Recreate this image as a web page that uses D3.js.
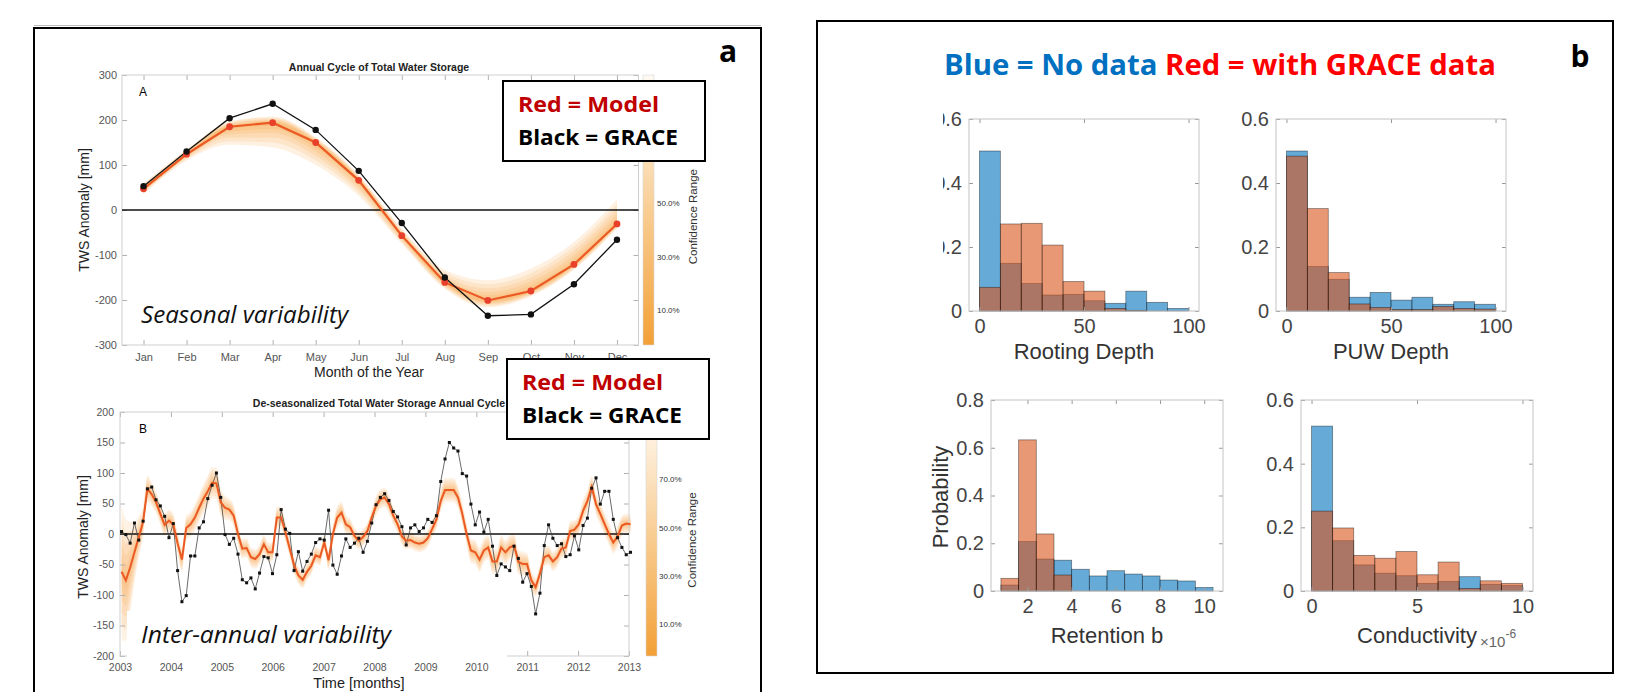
<!DOCTYPE html>
<html>
<head>
<meta charset="utf-8">
<script src="https://cdn.jsdelivr.net/npm/d3@7"></script>
<style>
body { margin: 0; background: #fff; }
svg { display: block; }
</style>
</head>
<body>
<svg id="fig" width="1626" height="692"></svg>
<script>
// ---- panel a, top: annual cycle ----
var months = ['Jan', 'Feb', 'Mar', 'Apr', 'May', 'Jun', 'Jul', 'Aug', 'Sep', 'Oct', 'Nov', 'Dec'];
var graceA = [53, 130, 204, 236, 178, 87, -29, -150, -235, -232, -165, -66];
var modelA = [47, 124, 185, 194, 150, 66, -57, -161, -201, -180, -121, -31];
var bandLoA = [12, 14, 40, 55, 50, 35, 18, 14, 15, 12, 12, 10];   // spread below model
var bandHiA = [12, 10, 12, 14, 12, 12, 16, 28, 45, 50, 50, 55];   // spread above model
var yTicksA = [-300, -200, -100, 0, 100, 200, 300];
var confTicksA = [10, 30, 50];

// ---- panel a, bottom: de-seasonalized ----
var yearTicks = [2003, 2004, 2005, 2006, 2007, 2008, 2009, 2010, 2011, 2012, 2013];
var yTicksB = [-200, -150, -100, -50, 0, 50, 100, 150, 200];
var confTicksB = [10, 30, 50, 70];
var startB = 2003.03, stepB = 1 / 11.8; // monthly samples
var graceB = [4, -1, -15, 18, -10, 21, 74, 77, 56, 46,
    29, -6, 17, -60, -111, -101, -36, -36, 10, 20,
    58, 80, 100, 60, -1, -17, -7, -33, -75, -80,
    -72, -90, -64, -37, -39, -65, -34, 40, 8, 1,
    -60, -29, -61, -45, -33, -14, -8, -10, 39, -51,
    -66, -36, -8, -22, -15, -7, -30, -12, 18, 48,
    60, 66, 55, 37, 28, 12, -18, 10, 15, 4,
    10, 24, 19, 30, 86, 123, 150, 141, 136, 99,
    95, 49, 15, 36, 3, 24, -20, -68, -49, -54,
    -60, -20, -40, -79, -65, -86, -131, -97, -19, 15,
    -7, -19, -16, -37, -34, -3, -26, 14, 26, 75,
    92, 49, 70, 70, 24, -6, -22, -34, -30];
var modelB = [-62, -76, -55, -30, -5, 20, 74, 65, 52, 33,
    15, 22, 15, -15, -42, 10, 16, 27, 43, 58,
    70, 84, 83, 52, 43, 40, 30, 0, -24, -23,
    -38, -41, -33, -17, -30, -30, 27, 27, 3, -24,
    -51, -68, -75, -62, -52, -35, -38, -14, -43, 0,
    27, 35, 16, 11, -3, -11, -5, 5, 27, 46,
    57, 60, 49, 30, 16, -4, -11, -10, -14, -16,
    -14, -7, 8, 24, 54, 72, 72, 72, 60, 33,
    0, -27, -30, -42, -27, -22, -45, -45, -22, -30,
    -22, -19, -46, -49, -49, -76, -87, -65, -38, -35,
    -45, -38, -24, -22, 5, 7, 16, 38, 54, 77,
    49, 33, 16, 0, -14, -4, 14, 17, 16];
var spreadB = [110, 100, 75, 50, 35, 25, 22, 20, 18, 18,
    18, 18, 18, 18, 20, 20, 20, 22, 22, 24,
    26, 26, 26, 22, 20, 18, 18, 18, 16, 16,
    16, 16, 16, 16, 16, 16, 18, 18, 16, 14,
    14, 14, 14, 14, 14, 14, 14, 14, 16, 16,
    18, 18, 16, 14, 14, 14, 14, 14, 14, 16,
    16, 16, 16, 14, 14, 14, 14, 14, 14, 14,
    14, 14, 14, 16, 18, 20, 20, 20, 18, 18,
    18, 20, 20, 20, 20, 20, 20, 20, 20, 20,
    20, 20, 20, 20, 18, 16, 16, 16, 16, 16,
    16, 16, 16, 16, 16, 16, 16, 18, 18, 18,
    18, 18, 18, 18, 18, 18, 16, 16, 16];

// ---- panel b: histograms ----
var rootEdges = [0, 10, 20, 30, 40, 50, 60, 70, 80, 90, 100];
var rootBlue = [0.50, 0.149, 0.086, 0.050, 0.052, 0.032, 0.024, 0.062, 0.027, 0.008];
var rootRed = [0.074, 0.272, 0.274, 0.206, 0.092, 0.062, 0.008, 0.002, 0, 0];
var puwEdges = [0, 10, 20, 30, 40, 50, 60, 70, 80, 90, 100];
var puwBlue = [0.50, 0.139, 0.099, 0.043, 0.058, 0.034, 0.043, 0.021, 0.029, 0.021];
var puwRed = [0.484, 0.32, 0.12, 0.022, 0.011, 0.005, 0.005, 0.014, 0.008, 0.006];
var retEdges = [0.8, 1.6, 2.4, 3.2, 4.0, 4.8, 5.6, 6.4, 7.2, 8.0, 8.8, 9.6, 10.4];
var retBlue = [0.025, 0.207, 0.134, 0.129, 0.091, 0.063, 0.085, 0.071, 0.063, 0.046, 0.042, 0.015];
var retRed = [0.053, 0.633, 0.239, 0.067, 0, 0, 0, 0, 0, 0, 0, 0];
var condEdges = [0, 1, 2, 3, 4, 5, 6, 7, 8, 9, 10];
var condBlue = [0.518, 0.158, 0.082, 0.056, 0.048, 0.024, 0.030, 0.045, 0.021, 0.017];
var condRed = [0.251, 0.198, 0.112, 0.103, 0.124, 0.051, 0.091, 0.008, 0.032, 0.024];

var HELV = '"Liberation Sans", Arial, sans-serif';
var CALI = '"Open Sans", "Noto Sans", sans-serif';
var svg = d3.select('#fig');

// 公共：MATLAB 风格的坐标框，四边向内刻度
function matAxes(g, x, y, o) {
    var xr = x.range(), yr = y.range();
    var parts = [];
    parts.push(g.append('g').attr('transform', 'translate(0,' + yr[0] + ')')
        .call(d3.axisBottom(x).tickValues(o.xt).tickSize(-o.tl).tickPadding(o.xp).tickFormat(o.xf)));
    parts.push(g.append('g').attr('transform', 'translate(0,' + yr[1] + ')')
        .call(d3.axisTop(x).tickValues(o.xt).tickSize(-o.tl).tickFormat('')));
    var left = g.append('g').attr('transform', 'translate(' + xr[0] + ',0)')
        .call(d3.axisLeft(y).tickValues(o.yt).tickSize(-o.tl).tickPadding(o.yp).tickFormat(o.yf));
    parts.push(left);
    parts.push(g.append('g').attr('transform', 'translate(' + xr[1] + ',0)')
        .call(d3.axisRight(y).tickValues(o.yt).tickSize(-o.tl).tickFormat('')));
    parts.forEach(function (a) {
        a.select('.domain').remove();
        a.selectAll('line').attr('stroke', o.tc);
        a.selectAll('text').attr('fill', o.lc).attr('font-size', o.fs).attr('font-family', HELV);
    });
    g.append('rect')
        .attr('x', xr[0]).attr('y', yr[1])
        .attr('width', xr[1] - xr[0]).attr('height', yr[0] - yr[1])
        .attr('fill', 'none').attr('stroke', o.bc).attr('stroke-width', 1);
    return left;
}

function num(d) { return String(d); }

// 色条
var defs = svg.append('defs');
var grad = defs.append('linearGradient').attr('id', 'cbGrad')
    .attr('x1', 0).attr('y1', 1).attr('x2', 0).attr('y2', 0);
grad.append('stop').attr('offset', '0%').attr('stop-color', '#f3a036');
grad.append('stop').attr('offset', '45%').attr('stop-color', '#f8c98a');
grad.append('stop').attr('offset', '100%').attr('stop-color', '#fffaf3');

function colorbar(x0, y0, y1, ticks, labelX, titleX) {
    var c = d3.scaleLinear().domain([-3, 98]).range([y0, y1]);
    svg.append('rect').attr('x', x0).attr('y', y1).attr('width', 11).attr('height', y0 - y1)
        .attr('fill', 'url(#cbGrad)').attr('stroke', '#d8d8d8').attr('stroke-width', 0.6);
    svg.selectAll(null).data(ticks).enter().append('text')
        .attr('x', labelX).attr('y', function (d) { return c(d); })
        .attr('dy', '0.35em').attr('font-family', HELV).attr('font-size', 8).attr('fill', '#333')
        .text(function (d) { return d.toFixed(1) + '%'; });
    svg.append('text')
        .attr('transform', 'translate(' + titleX + ',' + c(45) + ') rotate(-90)')
        .attr('text-anchor', 'middle').attr('dy', '0.35em')
        .attr('font-family', HELV).attr('font-size', 11.5).attr('fill', '#333')
        .text('Confidence Range');
}

function legendBox(x, y) {
    svg.append('rect').attr('x', x).attr('y', y).attr('width', 202).attr('height', 80)
        .attr('fill', '#fff').attr('stroke', '#000').attr('stroke-width', 2);
    svg.append('text').attr('x', x + 15).attr('y', y + 31)
        .attr('font-family', CALI).attr('font-weight', 700).attr('font-size', 21)
        .attr('fill', '#c00000').attr('textLength', 141).attr('lengthAdjust', 'spacingAndGlyphs')
        .text('Red = Model');
    svg.append('text').attr('x', x + 15).attr('y', y + 64)
        .attr('font-family', CALI).attr('font-weight', 700).attr('font-size', 21)
        .attr('fill', '#000').attr('textLength', 160).attr('lengthAdjust', 'spacingAndGlyphs')
        .text('Black = GRACE');
}

// ---- 外框 ----
svg.append('line').attr('x1', 34).attr('x2', 761).attr('y1', 25.5).attr('y2', 25.5)
    .attr('stroke', '#bbb').attr('stroke-width', 1);
svg.append('path').attr('d', 'M34,692 V28 H761 V692')
    .attr('fill', 'none').attr('stroke', '#000').attr('stroke-width', 2);
svg.append('rect').attr('x', 817).attr('y', 21).attr('width', 796).attr('height', 652)
    .attr('fill', 'none').attr('stroke', '#000').attr('stroke-width', 2);
svg.append('text').attr('x', 728).attr('y', 62).attr('text-anchor', 'middle')
    .attr('font-family', CALI).attr('font-weight', 700).attr('font-size', 30).text('a');
svg.append('text').attr('x', 1580).attr('y', 67).attr('text-anchor', 'middle')
    .attr('font-family', CALI).attr('font-weight', 700).attr('font-size', 30).text('b');

var bandLevels = [1, 0.8, 0.6, 0.42, 0.26, 0.12];

// ================= Panel A =================
(function () {
    var x = d3.scaleLinear().domain([0.5, 12.5]).range([122, 638.5]);
    var y = d3.scaleLinear().domain([-300, 300]).range([345, 75]);
    var g = svg.append('g');
    var pts = months.map(function (m, i) {
        return { x: i + 1, g: graceA[i], m: modelA[i], lo: bandLoA[i], hi: bandHiA[i] };
    });

    bandLevels.forEach(function (k) {
        var area = d3.area().curve(d3.curveMonotoneX)
            .x(function (d) { return x(d.x); })
            .y0(function (d) { return y(d.m - k * d.lo); })
            .y1(function (d) { return y(d.m + k * d.hi); });
        g.append('path').datum(pts).attr('d', area)
            .attr('fill', '#f59b35').attr('fill-opacity', 0.14);
    });

    matAxes(g, x, y, {
        xt: months.map(function (m, i) { return i + 1; }), yt: yTicksA,
        xf: function (d) { return months[d - 1]; }, yf: num,
        tl: 5, xp: 8, yp: 5, fs: 11, lc: '#555', tc: '#b0b0b0', bc: '#cfcfcf'
    });

    g.append('line').attr('x1', x(0.5)).attr('x2', x(12.5)).attr('y1', y(0)).attr('y2', y(0))
        .attr('stroke', '#111').attr('stroke-width', 1.3);

    var line = d3.line().x(function (d) { return x(d.x); });
    g.append('path').datum(pts).attr('d', line.y(function (d) { return y(d.m); }))
        .attr('fill', 'none').attr('stroke', '#ec5a24').attr('stroke-width', 2.2);
    g.append('path').datum(pts).attr('d', line.y(function (d) { return y(d.g); }))
        .attr('fill', 'none').attr('stroke', '#111').attr('stroke-width', 1.3);
    g.selectAll('.mA').data(pts).enter().append('circle')
        .attr('cx', function (d) { return x(d.x); }).attr('cy', function (d) { return y(d.m); })
        .attr('r', 3.4).attr('fill', '#e8402a');
    g.selectAll('.gA').data(pts).enter().append('circle')
        .attr('cx', function (d) { return x(d.x); }).attr('cy', function (d) { return y(d.g); })
        .attr('r', 3.2).attr('fill', '#111');

    svg.append('text').attr('x', 379).attr('y', 71).attr('text-anchor', 'middle')
        .attr('font-family', HELV).attr('font-weight', 700).attr('font-size', 10.5).attr('fill', '#222')
        .text('Annual Cycle of Total Water Storage');
    svg.append('text').attr('x', 143).attr('y', 92).attr('text-anchor', 'middle').attr('dy', '0.35em')
        .attr('font-family', HELV).attr('font-size', 12).text('A');
    svg.append('text').attr('transform', 'translate(84,210) rotate(-90)')
        .attr('text-anchor', 'middle').attr('dy', '0.35em')
        .attr('font-family', HELV).attr('font-size', 14).attr('fill', '#222').text('TWS Anomaly [mm]');
    svg.append('text').attr('x', 369).attr('y', 377).attr('text-anchor', 'middle')
        .attr('font-family', HELV).attr('font-size', 14).attr('fill', '#222').text('Month of the Year');
    svg.append('text').attr('x', 141).attr('y', 323)
        .attr('font-family', CALI).attr('font-style', 'italic').attr('font-size', 24).attr('fill', '#111')
        .attr('textLength', 207).attr('lengthAdjust', 'spacingAndGlyphs').text('Seasonal variability');

    colorbar(643, 345, 75, confTicksA, 657, 693);
    legendBox(503, 81);
})();

// ================= Panel B =================
(function () {
    var x = d3.scaleLinear().domain([2003, 2013]).range([120, 629]);
    var y = d3.scaleLinear().domain([-200, 200]).range([656, 412]);
    var g = svg.append('g');
    var pts = graceB.map(function (v, i) {
        return { t: startB + i * stepB, g: v, m: modelB[i], s: spreadB[i] };
    });

    bandLevels.forEach(function (k) {
        var area = d3.area().curve(d3.curveMonotoneX)
            .x(function (d) { return x(d.t); })
            .y0(function (d) { return y(d.m - k * d.s); })
            .y1(function (d) { return y(d.m + k * d.s); });
        g.append('path').datum(pts).attr('d', area)
            .attr('fill', '#f59b35').attr('fill-opacity', 0.13);
    });

    matAxes(g, x, y, {
        xt: yearTicks, yt: yTicksB, xf: num, yf: num,
        tl: 5, xp: 8, yp: 6, fs: 10.5, lc: '#555', tc: '#b0b0b0', bc: '#cfcfcf'
    });

    g.append('line').attr('x1', x(2003)).attr('x2', x(2013)).attr('y1', y(0)).attr('y2', y(0))
        .attr('stroke', '#111').attr('stroke-width', 1.3);

    var line = d3.line().x(function (d) { return x(d.t); });
    g.append('path').datum(pts).attr('d', line.y(function (d) { return y(d.g); }))
        .attr('fill', 'none').attr('stroke', '#444').attr('stroke-width', 0.8);
    g.append('path').datum(pts).attr('d', line.y(function (d) { return y(d.m); }))
        .attr('fill', 'none').attr('stroke', '#ec5a24').attr('stroke-width', 2);
    g.selectAll('.gB').data(pts).enter().append('rect')
        .attr('x', function (d) { return x(d.t) - 1.5; }).attr('y', function (d) { return y(d.g) - 1.5; })
        .attr('width', 3).attr('height', 3).attr('fill', '#111');

    // 文字底框遮住左下角
    svg.append('rect').attr('x', 127).attr('y', 611).attr('width', 380).attr('height', 48).attr('fill', '#fff');
    svg.append('text').attr('x', 141).attr('y', 643)
        .attr('font-family', CALI).attr('font-style', 'italic').attr('font-size', 24).attr('fill', '#111')
        .attr('textLength', 250).attr('lengthAdjust', 'spacingAndGlyphs').text('Inter-annual variability');

    svg.append('text').attr('x', 379).attr('y', 407).attr('text-anchor', 'middle')
        .attr('font-family', HELV).attr('font-weight', 700).attr('font-size', 10.5).attr('fill', '#222')
        .text('De-seasonalized Total Water Storage Annual Cycle');
    svg.append('text').attr('x', 143).attr('y', 429).attr('text-anchor', 'middle').attr('dy', '0.35em')
        .attr('font-family', HELV).attr('font-size', 12).text('B');
    svg.append('text').attr('transform', 'translate(83,537) rotate(-90)')
        .attr('text-anchor', 'middle').attr('dy', '0.35em')
        .attr('font-family', HELV).attr('font-size', 14).attr('fill', '#222').text('TWS Anomaly [mm]');
    svg.append('text').attr('x', 359).attr('y', 688).attr('text-anchor', 'middle')
        .attr('font-family', HELV).attr('font-size', 14.5).attr('fill', '#222').text('Time [months]');

    colorbar(646, 656, 412, confTicksB, 659, 692);
    legendBox(507, 359);
})();

// ================= Panel b: histograms =================
var title = svg.append('text').attr('x', 944).attr('y', 75)
    .attr('font-family', CALI).attr('font-weight', 700).attr('font-size', 28)
    .attr('textLength', 552).attr('lengthAdjust', 'spacingAndGlyphs');
title.append('tspan').attr('fill', '#0070c0').text('Blue = No data ');
title.append('tspan').attr('fill', '#ff0000').text('Red = with GRACE data');

// 左上图的 y 刻度文字被裁掉一部分（坐标相对于左轴组）
defs.append('clipPath').attr('id', 'clipTL').append('rect')
    .attr('x', -26).attr('y', 0).attr('width', 300).attr('height', 692);

function hist(cfg) {
    var g = svg.append('g');
    var x = d3.scaleLinear().domain(cfg.xd).range(cfg.xr);
    var y = d3.scaleLinear().domain([0, cfg.ymax]).range(cfg.yr);
    [[cfg.blue, '#0072bd'], [cfg.red, '#d95319']].forEach(function (s) {
        var bins = s[0].map(function (v, i) { return { v: v, a: cfg.edges[i], b: cfg.edges[i + 1] }; })
            .filter(function (d) { return d.v > 0; });
        g.selectAll(null).data(bins).enter().append('rect')
            .attr('x', function (d) { return x(d.a); })
            .attr('width', function (d) { return x(d.b) - x(d.a); })
            .attr('y', function (d) { return y(d.v); })
            .attr('height', function (d) { return y(0) - y(d.v); })
            .attr('fill', s[1]).attr('fill-opacity', 0.6)
            .attr('stroke', '#000').attr('stroke-opacity', 0.45).attr('stroke-width', 0.8);
    });
    var left = matAxes(g, x, y, {
        xt: cfg.xt, yt: cfg.yt, xf: num,
        yf: function (d) { return d === 0 ? '0' : d3.format('.1f')(d); },
        tl: 4, xp: 8, yp: 7, fs: 20, lc: '#444', tc: '#999', bc: '#c4c4c4'
    });
    if (cfg.clip) left.attr('clip-path', 'url(#' + cfg.clip + ')');
    svg.append('text').attr('x', (cfg.xr[0] + cfg.xr[1]) / 2).attr('y', cfg.labY)
        .attr('text-anchor', 'middle').attr('font-family', HELV).attr('font-size', 22).attr('fill', '#333')
        .text(cfg.label);
    return g;
}

hist({ edges: rootEdges, blue: rootBlue, red: rootRed, xd: [-5, 105], xr: [969, 1199],
    ymax: 0.6, yr: [311, 119], xt: [0, 50, 100], yt: [0, 0.2, 0.4, 0.6],
    label: 'Rooting Depth', labY: 359, clip: 'clipTL' });
hist({ edges: puwEdges, blue: puwBlue, red: puwRed, xd: [-5, 105], xr: [1276, 1506],
    ymax: 0.6, yr: [311, 119], xt: [0, 50, 100], yt: [0, 0.2, 0.4, 0.6],
    label: 'PUW Depth', labY: 359 });
hist({ edges: retEdges, blue: retBlue, red: retRed, xd: [0.35, 10.85], xr: [991, 1223],
    ymax: 0.8, yr: [591, 400], xt: [2, 4, 6, 8, 10], yt: [0, 0.2, 0.4, 0.6, 0.8],
    label: 'Retention b', labY: 643 });
hist({ edges: condEdges, blue: condBlue, red: condRed, xd: [-0.5, 10.5], xr: [1301, 1533],
    ymax: 0.6, yr: [591, 400], xt: [0, 5, 10], yt: [0, 0.2, 0.4, 0.6],
    label: 'Conductivity', labY: 643 });

// ×10^-6 倍数标注
var mult = svg.append('text').attr('x', 1480).attr('y', 647)
    .attr('font-family', HELV).attr('font-size', 15).attr('fill', '#666');
mult.append('tspan').text('\u00d710');
mult.append('tspan').attr('dy', -9).attr('font-size', 12).text('-6');

svg.append('text').attr('transform', 'translate(940,497) rotate(-90)')
    .attr('text-anchor', 'middle').attr('dy', '0.35em')
    .attr('font-family', HELV).attr('font-size', 22).attr('fill', '#333').text('Probability');
</script>
</body>
</html>
